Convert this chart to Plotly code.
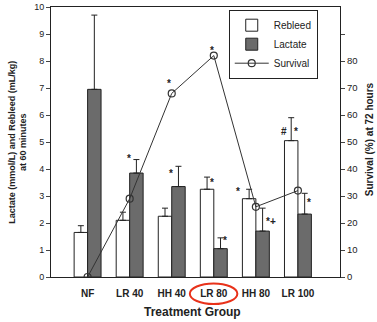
import plotly.graph_objects as go

groups = ["NF", "LR 40", "HH 40", "LR 80", "HH 80", "LR 100"]
rebleed = [1.65, 2.1, 2.25, 3.25, 2.9, 5.05]
rebleed_err_top = [1.9, 2.4, 2.55, 3.7, 3.25, 5.9]
lactate = [6.95, 3.85, 3.35, 1.05, 1.7, 2.33]
lactate_err_top = [9.7, 4.35, 4.1, 1.45, 2.55, 3.1]
survival = [0, 29, 68, 82, 26, 32]

xpos = list(range(len(groups)))
bw = 0.32
font = "Liberation Sans, Arial, sans-serif"

fig = go.Figure()
fig.add_trace(go.Bar(
    x=[x - bw / 2 for x in xpos], y=rebleed, width=bw, name="Rebleed",
    marker=dict(color="white", line=dict(color="#222", width=1)),
    error_y=dict(type="data", symmetric=False,
                 array=[t - v for t, v in zip(rebleed_err_top, rebleed)],
                 arrayminus=[0] * len(groups), color="#222", thickness=1, width=3),
))
fig.add_trace(go.Bar(
    x=[x + bw / 2 for x in xpos], y=lactate, width=bw, name="Lactate",
    marker=dict(color="#6b6b6b", line=dict(color="#222", width=1)),
    error_y=dict(type="data", symmetric=False,
                 array=[t - v for t, v in zip(lactate_err_top, lactate)],
                 arrayminus=[0] * len(groups), color="#222", thickness=1, width=3),
))
fig.add_trace(go.Scatter(
    x=xpos, y=survival, name="Survival", yaxis="y2", mode="lines+markers",
    line=dict(color="#333", width=1),
    marker=dict(symbol="circle-open", size=7, color="#333", line=dict(width=1.2)),
))

marks = [
    (0.98, 4.4, "*"), (1.98, 3.85, "*"), (2.96, 3.5, "*"), (3.27, 1.35, "*"),
    (3.58, 3.15, "*"), (4.36, 2.05, "*+"), (4.66, 5.4, "#"), (4.95, 5.4, "*"),
    (5.27, 2.75, "*"), (1.93, 7.15, "*"), (2.95, 8.4, "*"),
]
annotations = [dict(x=x, y=y, xref="x", yref="y", text="<b>%s</b>" % t, showarrow=False,
                    font=dict(size=10, color="#222", family=font)) for x, y, t in marks]
annotations.append(dict(
    x=-0.115, y=0.5, xref="paper", yref="paper", xanchor="center", yanchor="middle",
    text="<b>Lactate (mmol/L) and Rebleed (mL/kg)<br>at 60 minutes</b>",
    textangle=-90, showarrow=False, font=dict(size=9, color="#222", family=font)))
annotations.append(dict(
    x=1.1, y=0.51, xref="paper", yref="paper", xanchor="center", yanchor="middle",
    text="<b>Survival (%) at 72 hours</b>",
    textangle=-90, showarrow=False, font=dict(size=10, color="#222", family=font)))
annotations.append(dict(
    x=2.5, y=-0.13, xref="x", yref="paper", xanchor="center", yanchor="middle",
    text="<b>Treatment Group</b>", showarrow=False,
    font=dict(size=12, color="#222", family=font)))

fig.update_layout(
    width=377, height=322,
    margin=dict(l=51, r=37, t=7, b=45, autoexpand=False),
    paper_bgcolor="white", plot_bgcolor="white",
    font=dict(family=font, color="#222", size=10),
    showlegend=True,
    legend=dict(x=0.615, y=0.99, xanchor="left", yanchor="top",
                bordercolor="#222", borderwidth=1, bgcolor="white",
                font=dict(size=10), tracegroupgap=0, itemwidth=34),
    barmode="overlay",
    xaxis=dict(range=[-0.87, 6.0], tickmode="array", tickvals=xpos,
               ticktext=["<b>%s</b>" % g for g in groups],
               showline=True, linecolor="#222", linewidth=1, mirror=True,
               ticks="outside", ticklen=7, tickcolor="rgba(0,0,0,0)",
               showgrid=False, zeroline=False, automargin=False,
               tickfont=dict(size=10, color="#222")),
    yaxis=dict(range=[0, 10], dtick=1, showline=True, linecolor="#222", linewidth=1,
               ticks="outside", ticklen=4, showgrid=False, zeroline=False, automargin=False,
               tickfont=dict(size=9)),
    yaxis2=dict(range=[0, 100], overlaying="y", side="right",
                tickmode="array", tickvals=list(range(0, 100, 10)),
                ticktext=[str(v) for v in range(0, 90, 10)] + [""],
                showline=True, linecolor="#222", linewidth=1, automargin=False,
                ticks="outside", ticklen=4, showgrid=False, zeroline=False,
                tickfont=dict(size=9.5)),
    annotations=annotations,
    shapes=[dict(type="circle", xref="x", yref="paper", x0=2.43, x1=3.56,
                 y0=-0.1, y1=-0.024, line=dict(color="#e8321a", width=2))],
)

fig.write_html("out.html", config={"displayModeBar": False},
               post_script="document.body.style.margin='0';")
